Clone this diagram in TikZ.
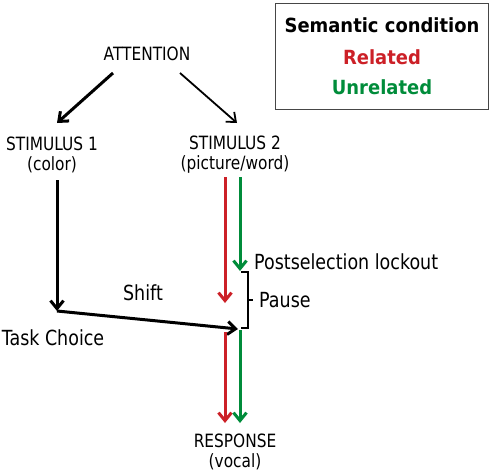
\documentclass[tikz,border=0pt]{standalone}
\usepackage{fontspec}
\setmainfont{DejaVu Sans}[FakeStretch=0.84]
\newfontfamily\legfont{DejaVu Sans}[FakeStretch=0.92]
\usetikzlibrary{arrows.meta}
\definecolor{relred}{RGB}{204,32,39}
\definecolor{unrgreen}{RGB}{0,140,58}
\definecolor{boxgray}{RGB}{70,70,70}
\begin{document}
\begin{tikzpicture}[x=1pt,y=-1pt,
  lbl/.style={font=\fontsize{18.3}{20}\selectfont, align=center, inner sep=0pt},
  side/.style={font=\fontsize{20.8}{22}\selectfont, inner sep=0pt},
  legend/.style={font=\legfont\bfseries\fontsize{19.5}{22}\selectfont, inner sep=0pt},
  arr/.style={-{Straight Barb[length=8pt,width=13pt]}},
  thickline/.style={line width=3pt},
  thinline/.style={line width=1.8pt},
  bracket/.style={line width=1.7pt, line join=miter}]
\useasboundingbox (0,0) rectangle (492,474);
% legend
\node[draw=boxgray, line width=1pt, minimum width=213pt, minimum height=106pt, inner sep=0pt] (legbox) at (381.5,56) {};
\node[legend] (lt) at (382,25) {Semantic condition};
\node[legend, text=relred] (lr) at (382,57) {Related};
\node[legend, text=unrgreen] (lu) at (382,87) {Unrelated};
% main nodes
\node[lbl] (att) at (147,54) {ATTENTION};
\node[lbl] (s1) at (52,155) {STIMULUS 1\\(color)};
\node[lbl] (s2) at (235,155) {STIMULUS 2\\(picture/word)};
\node[lbl] (resp) at (235,452) {RESPONSE\\(vocal)};
\node[side] (shift) at (143,293) {Shift};
\node[side] (task) at (53,338) {Task Choice};
\node[side, anchor=west] (post) at (254,262) {Postselection lockout};
\node[side, anchor=west] (pause) at (259,300) {Pause};
% coordinates
\coordinate (attL) at (113,73);
\coordinate (attR) at (180,73);
\coordinate (s1in) at (57,123);
\coordinate (s2in) at (237,123);
\coordinate (s1out) at (57,180);
\coordinate (tc) at (57,311);
\coordinate (brTop) at (241,272);
\coordinate (brBot) at (241,328);
\coordinate (shiftEnd) at (238,329);
\coordinate (rTop) at (225,177);
\coordinate (rMid) at (225,303);
\coordinate (rLow) at (225,332);
\coordinate (rEnd) at (225,423);
\coordinate (gTop) at (240,177);
\coordinate (gMid) at (240,271);
\coordinate (gLow) at (240,330);
\coordinate (gEnd) at (240,423);
% connectors
\draw[arr, thickline] (attL) -- (s1in);
\draw[arr, thinline] (attR) -- (s2in);
\draw[arr, thickline] (s1out) -- (tc);
\draw[arr, thickline] (tc) -- (shiftEnd);
\draw[arr, thickline, relred] (rTop) -- (rMid);
\draw[arr, thickline, relred] (rLow) -- (rEnd);
\draw[arr, thickline, unrgreen] (gTop) -- (gMid);
\draw[arr, thickline, unrgreen] (gLow) -- (gEnd);
% bracket
\draw[bracket] (brTop) -- ++(7,0) coordinate (brTR) -- ++(0,56) coordinate (brBR) -- (brBot);
\draw[bracket] (248,300) -- (253,300);
\end{tikzpicture}
\end{document}
